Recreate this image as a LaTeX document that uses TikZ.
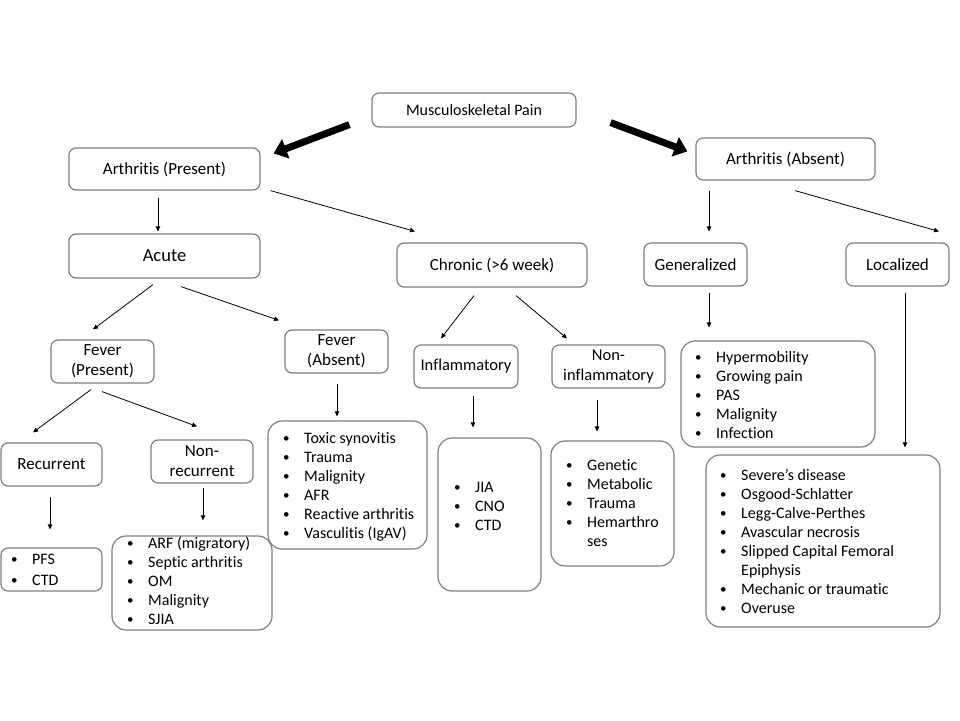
\documentclass[tikz,border=0pt]{standalone}
\usepackage{fontspec}
\setmainfont{Carlito}[Ligatures=NoCommon]
\usetikzlibrary{arrows.meta,calc}
\newcommand{\bl}{\makebox[21pt][l]{\raisebox{0.6pt}{\fontsize{13}{13}\selectfont\textbullet}}}
\newcommand{\ind}{\hspace*{21pt}}
\begin{document}
\begin{tikzpicture}[x=1pt,y=-1pt,
  box/.style={draw=black!50, line width=1.2pt, rounded corners=7pt, fill=white, inner sep=0pt, align=center, font=\fontsize{17}{20}\selectfont},
  lbox/.style={box, rounded corners=14pt},
  lst/.style={anchor=base west, inner sep=0pt, font=\fontsize{16}{19}\selectfont},
  conn/.style={draw=black, line width=0.8pt, -{Triangle[length=5pt,width=4.5pt]}},
  thick/.style={draw=black, line width=7pt, -{Triangle[length=13pt,width=20pt]}}]
\useasboundingbox (0,0) rectangle (960,720);
% top level
\node[box, minimum width=204, minimum height=34, font=\fontsize{16}{20}\selectfont] (mp) at (474,110) {Musculoskeletal Pain};
\node[box, minimum width=191, minimum height=42] (ap) at (164.5,169) {Arthritis (Present)};
\node[box, minimum width=179, minimum height=42] (aa) at (785.5,159) {Arthritis (Absent)};
% second level
\node[box, minimum width=191, minimum height=44, font=\fontsize{18.5}{20}\selectfont] (acute) at (164.5,256) {Acute};
\node[box, minimum width=190, minimum height=44] (chronic) at (492,265) {Chronic (>6 week)};
\node[box, minimum width=103, minimum height=43] (gen) at (695.5,264.5) {Generalized};
\node[box, minimum width=103, minimum height=43] (loc) at (897.5,264.5) {Localized};
% third level
\node[box, minimum width=103, minimum height=43] (fp) at (102.5,361.5) {Fever\\(Present)};
\node[box, minimum width=103, minimum height=43] (fa) at (336.5,351.5) {Fever\\(Absent)};
\node[box, minimum width=104, minimum height=43, font=\fontsize{16.5}{20}\selectfont] (infl) at (466,366.5) {Inflammatory};
\node[box, minimum width=113, minimum height=43, font=\fontsize{16.5}{20}\selectfont] (ni) at (608.5,366.5) {Non-\\inflammatory};
\node[box, minimum width=101, minimum height=43] (rec) at (51.5,464.5) {Recurrent};
\node[box, minimum width=102, minimum height=43] (nr) at (202,461.5) {Non-\\recurrent};
% list boxes
\node[box, minimum width=101, minimum height=43] (pfs) at (51.5,569.5) {};
\node[lbox, minimum width=160, minimum height=94] (arf) at (192,583) {};
\node[lbox, minimum width=159, minimum height=128] (tox) at (347.5,485) {};
\node[lbox, minimum width=103, minimum height=153] (jia) at (489.5,514.5) {};
\node[lbox, minimum width=123, minimum height=125] (genl) at (612.5,503.5) {};
\node[lbox, minimum width=194, minimum height=106] (hyp) at (778,394) {};
\node[lbox, minimum width=234, minimum height=172] (sev) at (823,541) {};
% list texts
\node[lst, font=\fontsize{16}{21}\selectfont] (pfst) at (11,564.5) {\begin{tabular}[t]{@{}l@{}}\bl PFS\\\bl CTD\end{tabular}};
\node[lst] (arft) at (127,548) {\begin{tabular}[t]{@{}l@{}}\bl ARF (migratory)\\\bl Septic arthritis\\\bl OM\\\bl Malignity\\\bl SJIA\end{tabular}};
\node[lst] (toxt) at (283,443.5) {\begin{tabular}[t]{@{}l@{}}\bl Toxic synovitis\\\bl Trauma\\\bl Malignity\\\bl AFR\\\bl Reactive arthritis\\\bl Vasculitis (IgAV)\end{tabular}};
\node[lst] (jiat) at (454,492.5) {\begin{tabular}[t]{@{}l@{}}\bl JIA\\\bl CNO\\\bl CTD\end{tabular}};
\node[lst] (genlt) at (566,470.5) {\begin{tabular}[t]{@{}l@{}}\bl Genetic\\\bl Metabolic\\\bl Trauma\\\bl Hemarthro\\\ind ses\end{tabular}};
\node[lst] (hypt) at (695,362.5) {\begin{tabular}[t]{@{}l@{}}\bl Hypermobility\\\bl Growing pain\\\bl PAS\\\bl Malignity\\\bl Infection\end{tabular}};
\node[lst] (sevt) at (720,480.5) {\begin{tabular}[t]{@{}l@{}}\bl Severe’s disease\\\bl Osgood-Schlatter\\\bl Legg-Calve-Perthes\\\bl Avascular necrosis\\\bl Slipped Capital Femoral\\\ind Epiphysis\\\bl Mechanic or traumatic\\\bl Overuse\end{tabular}};
% thick arrows
\draw[thick] ($(mp.south west)+(-22,-3)$) -- ($(ap.north east)+(13,6)$);
\draw[thick] ($(mp.south east)+(34,-5)$) -- ($(aa.north west)+(-8,14)$);
% connectors
\draw[conn] ($(ap.south)+(-6.5,7)$) -- ($(acute.north)+(-6.5,-2)$);
\draw[conn] ($(ap.south east)+(10,0)$) -- ($(chronic.north)+(-77,-11)$);
\draw[conn] ($(acute.south)+(-11.5,6)$) -- ($(fp.north)+(-9.5,-10)$);
\draw[conn] ($(acute.south)+(16.5,8)$) -- ($(fa.north)+(-57.5,-9)$);
\draw[conn] ($(chronic.south)+(-18,8)$) -- ($(infl.north)+(-25,-6)$);
\draw[conn] ($(chronic.south)+(24,8)$) -- ($(ni.north)+(-41.5,-6)$);
\draw[conn] ($(aa.south)+(-76.5,10)$) -- ($(gen.north)+(13.5,-11)$);
\draw[conn] ($(aa.south)+(9.5,10)$) -- ($(loc.north)+(41.5,-11)$);
\draw[conn] ($(gen.south)+(13.5,6)$) -- ($(hyp.north)+(-69,-13)$);
\draw[conn] ($(loc.south)+(7.5,6)$) -- ($(sev.north)+(82,-7)$);
\draw[conn] ($(fp.south)+(-11.5,6)$) -- ($(rec.north)+(-18.5,-10)$);
\draw[conn] ($(fp.south)+(-0.5,8)$) -- ($(nr.north)+(-5,-13)$);
\draw[conn] ($(fa.south)+(0.5,10)$) -- ($(tox.north)+(-10.5,-4)$);
\draw[conn] ($(rec.south)+(-1.5,10)$) -- ($(pfs.north)+(-1.5,-18)$);
\draw[conn] ($(nr.south)+(1,4)$) -- ($(arf.north)+(11,-15)$);
\draw[conn] ($(infl.south)+(7,7)$) -- ($(jia.north)+(-16.5,-10)$);
\draw[conn] ($(ni.south)+(-11.5,11)$) -- ($(genl.north)+(-15.5,-9)$);
\end{tikzpicture}
\end{document}
